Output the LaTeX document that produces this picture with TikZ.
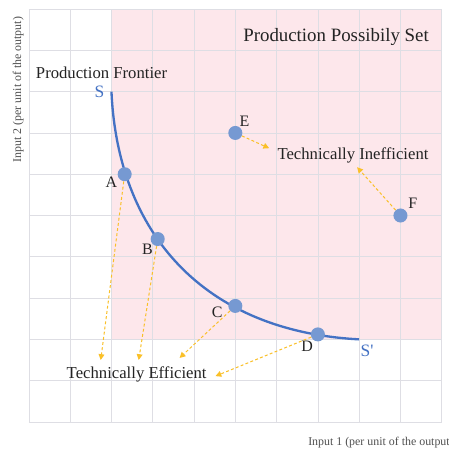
\documentclass[tikz,border=0pt]{standalone}
\usepackage{fontspec}
\setmainfont{Liberation Serif}
\newfontfamily\plainserif{Liberation Serif}[Ligatures=ResetAll]
\usetikzlibrary{arrows.meta}
\definecolor{pinkbg}{RGB}{253,231,235}
\definecolor{gridc}{RGB}{222,222,228}
\definecolor{curveblue}{RGB}{68,114,196}
\definecolor{dotblue}{RGB}{118,153,210}
\definecolor{arrowgold}{RGB}{250,192,40}
\definecolor{axisgray}{RGB}{80,80,80}
\definecolor{txt}{RGB}{35,35,35}
\begin{document}
\begin{tikzpicture}[x=1cm,y=1cm,
  dot/.style={circle,fill=dotblue,inner sep=0pt,minimum size=0.34cm},
  ptlabel/.style={font=\fontsize{11}{13}\selectfont,text=txt,inner sep=0pt},
  bigtext/.style={font=\fontsize{11.5}{14}\selectfont,text=txt,inner sep=0pt},
  titletext/.style={font=\fontsize{13}{15}\selectfont,text=txt,inner sep=0pt},
  endlabel/.style={font=\plainserif\fontsize{12}{14}\selectfont,text=curveblue,inner sep=0pt},
  axislabel/.style={font=\fontsize{8.2}{10}\selectfont,text=axisgray,inner sep=0pt},
  guide/.style={draw=arrowgold,line width=0.7pt,dash pattern=on 2pt off 1.6pt,-{Triangle[length=4pt,width=4pt]}}
 ]
\useasboundingbox (-0.70,-0.68) rectangle (10.17,10.22);
\fill[white] (-0.70,-0.68) rectangle (10.17,10.22);
\fill[pinkbg] (2,2) rectangle (10,10);
\draw[gridc, line width=0.5pt] (0,0) grid (10,10);
\draw[curveblue, line width=1.6pt] (2,8) .. controls (2.15,4.6) and (4.2,2.2) .. (8,2);

% points
\node[dot] (A) at (2.32,6.0) {};
\node[dot] (B) at (3.12,4.43) {};
\node[dot] (C) at (5.0,2.81) {};
\node[dot] (D) at (7.0,2.12) {};
\node[dot] (E) at (5.0,7.0) {};
\node[dot] (F) at (9.0,5.0) {};

% point labels
\node[ptlabel] (lA) at (2.0,5.8) {A};
\node[ptlabel] (lB) at (2.87,4.18) {B};
\node[ptlabel] (lC) at (4.56,2.66) {C};
\node[ptlabel] (lD) at (6.74,1.84) {D};
\node[ptlabel] (lE) at (5.22,7.28) {E};
\node[ptlabel] (lF) at (9.3,5.3) {F};
\node[endlabel] (lS) at (1.71,7.99) {S};
\node[endlabel] (lS2) at (8.19,1.72) {S'};

% texts
\node[titletext] (pps) at (7.44,9.32) {Production Possibily Set};
\node[bigtext] (pf) at (1.76,8.45) {Production Frontier};
\node[bigtext] (ti) at (7.85,6.46) {Technically Inefficient};
\node[bigtext] (te) at (2.61,1.16) {Technically Efficient};
\node[axislabel,rotate=90] (ylab) at (-0.26,8.05) {Input 2 (per unit of the output)};
\node[axislabel,anchor=west] (xlab) at (6.76,-0.51) {Input 1 (per unit of the output};

% arrow targets
\coordinate (tA) at (1.74,1.50);
\coordinate (tB) at (2.66,1.50);
\coordinate (tC) at (3.65,1.55);
\coordinate (tD) at (4.52,1.11);
\coordinate (tE) at (5.82,6.63);
\coordinate (tF) at (7.95,6.17);

\draw[guide] (A) -- (tA);
\draw[guide] (B) -- (tB);
\draw[guide] (C) -- (tC);
\draw[guide] (D) -- (tD);
\draw[guide] (E) -- (tE);
\draw[guide] (F) -- (tF);
\end{tikzpicture}
\end{document}
